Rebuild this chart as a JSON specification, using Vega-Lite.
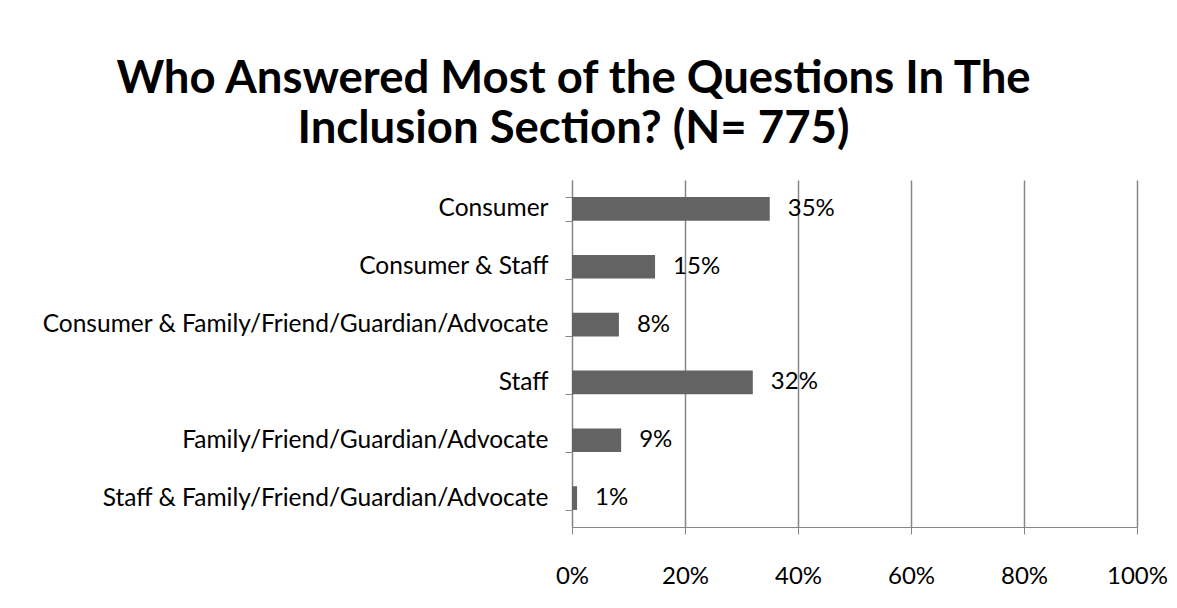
{
  "$schema": "https://vega.github.io/schema/vega-lite/v6.json",
  "width": 565,
  "height": 347,
  "autosize": "none",
  "padding": {"left": 572, "top": 180, "right": 40, "bottom": 81},
  "background": "white",
  "title": {
    "text": ["Who Answered Most of the Questions In The", "Inclusion Section? (N= 775)"],
    "font": "Lato",
    "fontSize": 45.5,
    "fontWeight": "bold",
    "color": "black",
    "anchor": "middle",
    "frame": "group",
    "dx": -281,
    "lineHeight": 50,
    "offset": 15
  },
  "data": {
    "values": [
      {"who": "Consumer", "pct": 0.35},
      {"who": "Consumer & Staff", "pct": 0.147},
      {"who": "Consumer & Family/Friend/Guardian/Advocate", "pct": 0.083},
      {"who": "Staff", "pct": 0.32},
      {"who": "Family/Friend/Guardian/Advocate", "pct": 0.087},
      {"who": "Staff & Family/Friend/Guardian/Advocate", "pct": 0.009}
    ]
  },
  "encoding": {
    "y": {
      "field": "who",
      "type": "nominal",
      "sort": null,
      "title": null,
      "scale": {"paddingInner": 0.59, "paddingOuter": 0.295},
      "axis": {
        "labelFont": "Lato",
        "labelFontSize": 24.5,
        "labelColor": "black",
        "labelPadding": 17,
        "labelLimit": 600,
        "domainColor": "#868686",
        "tickColor": "#868686",
        "tickSize": 7,
        "tickBand": "extent",
        "grid": false
      }
    },
    "x": {
      "field": "pct",
      "type": "quantitative",
      "title": null,
      "scale": {"domain": [0, 1], "nice": false},
      "axis": {
        "format": ".0%",
        "values": [0, 0.2, 0.4, 0.6, 0.8, 1],
        "labelFont": "Lato",
        "labelFontSize": 24,
        "labelColor": "black",
        "labelPadding": 30,
        "domainColor": "#868686",
        "tickColor": "#868686",
        "tickSize": 7,
        "gridColor": "#868686",
        "gridWidth": 1.5,
        "labelFlush": false
      }
    }
  },
  "layer": [
    {"mark": {"type": "bar", "color": "#636363"}},
    {
      "mark": {"type": "text", "align": "left", "dx": 18, "font": "Lato", "fontSize": 24, "color": "black"},
      "encoding": {"text": {"field": "pct", "type": "quantitative", "format": ".0%"}}
    }
  ],
  "config": {"view": {"stroke": null}}
}
